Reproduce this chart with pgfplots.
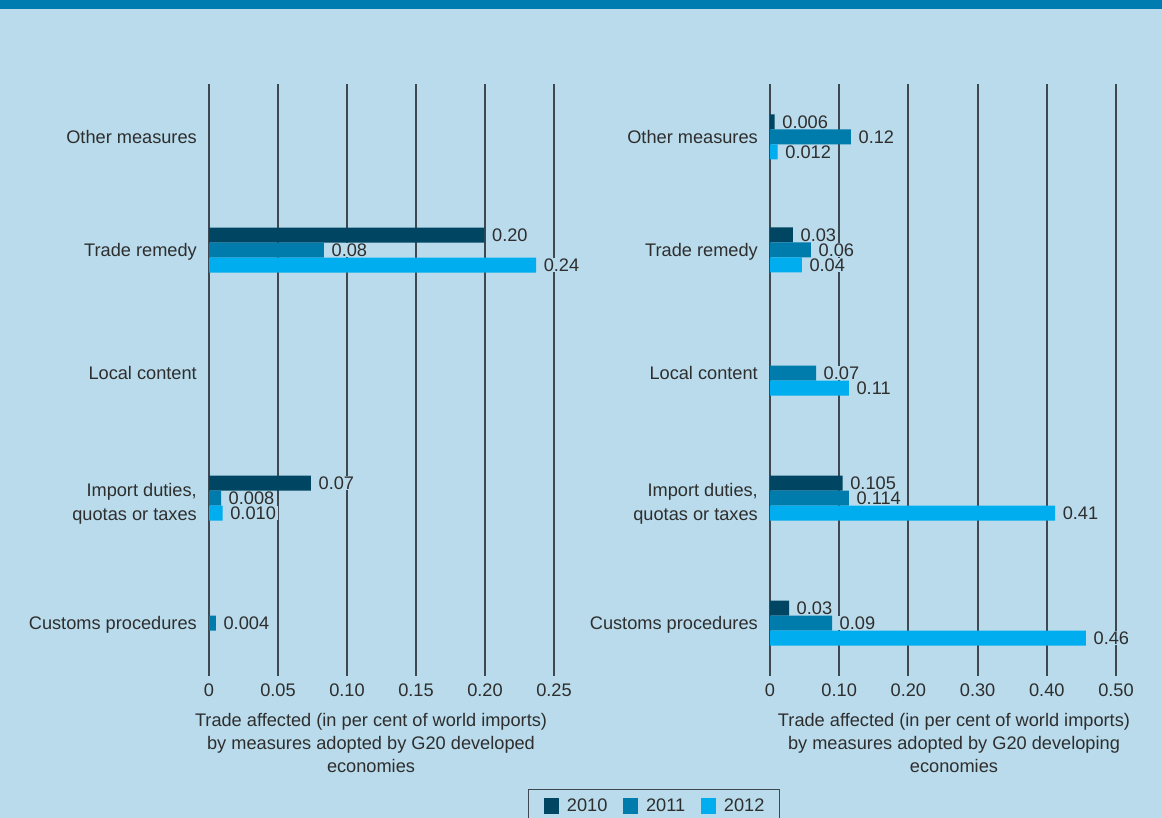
\documentclass[border=0pt]{standalone}
\usepackage{fontspec}
\setmainfont{Liberation Sans}
\usepackage{pgfplots}
\usepackage{pgfplotstable}
\pgfplotsset{compat=1.18}
\definecolor{bg}{HTML}{B9DBEB}
\definecolor{band}{HTML}{007CB0}
\definecolor{cA}{HTML}{004662}
\definecolor{cB}{HTML}{007CAC}
\definecolor{cC}{HTML}{00AEEF}
\definecolor{textc}{HTML}{2E2E2E}
\definecolor{gridc}{HTML}{3F4850}
\newcommand{\myfont}{\fontsize{18.2pt}{23pt}\selectfont}

% developed economies
\pgfplotstableread{
x y lab
0.1996 425.7 0.20
0.0739 177.7 0.07
}\devA
\pgfplotstableread{
x y lab
0.0833 425.7 0.08
0.0087 177.7 0.008
0.0050 52.7 0.004
}\devB
\pgfplotstableread{
x y lab
0.2370 425.7 0.24
0.0099 177.7 0.010
}\devC
% developing economies
\pgfplotstableread{
x y lab
0.0068 538.7 0.006
0.0332 425.7 0.03
0.1050 177.7 0.105
0.0275 52.7 0.03
}\dgA
\pgfplotstableread{
x y lab
0.1170 538.7 0.12
0.0592 425.7 0.06
0.0665 302.7 0.07
0.1140 177.7 0.114
0.0896 52.7 0.09
}\dgB
\pgfplotstableread{
x y lab
0.0111 538.7 0.012
0.0460 425.7 0.04
0.1140 302.7 0.11
0.4120 177.7 0.41
0.4566 52.7 0.46
}\dgC

\pgfplotsset{
  panel/.style={
    scale only axis, height=591.7pt, ymin=0, ymax=591.7, clip=false,
    axis line style={draw=none}, major tick length=0pt,
    xmajorgrids, grid style={draw=gridc, line width=2pt},
    ytick={52.7,174.2,302.7,425.7,538.7},
    yticklabels={Customs procedures,{Import duties,\\[1pt]quotas or taxes},Local content,Trade remedy,Other measures},
    yticklabel style={font=\myfont, text=textc, align=right, anchor=east, inner sep=0pt, text depth=0pt, xshift=-12pt},
    xticklabel style={font=\myfont, text=textc, anchor=north, inner sep=0pt, yshift=-7.6pt},
    xlabel style={font=\myfont, text=textc, align=center, anchor=north, inner sep=0pt},
  },
  bars/.style 2 args={xbar, bar width=15, bar shift=#2, draw=none, fill=#1},
  lab/.style={draw=none, mark=none, forget plot, nodes near coords, point meta=explicit symbolic,
    every node near coord/.append style={font=\myfont, text=textc, fill=bg, anchor=west,
      inner xsep=2pt, inner ysep=0.9pt, xshift=5.5pt, yshift=#1}},
}

\begin{document}
\begin{tikzpicture}
\fill[bg] (0,0) rectangle (1162pt,-818pt);
\useasboundingbox (0,0) rectangle (1162pt,-818pt);
\fill[band] (0,0) rectangle (1162pt,-9.5pt);

\begin{axis}[panel, at={(209pt,-675.7pt)}, anchor=south west, width=345pt,
  xmin=0, xmax=0.25, xtick={0,0.05,0.10,0.15,0.20,0.25},
  xticklabels={0,0.05,0.10,0.15,0.20,0.25},
  xlabel={Trade affected (in per cent of world imports)\\by measures adopted by G20 developed\\economies},
  xlabel style={at={(axis description cs:0.4696,0)}, yshift=-37.3pt},
  legend columns=3,
  legend image code/.code={\fill[#1] (0pt,-7.75pt) rectangle (15.5pt,7.75pt);},
  legend style={at={(axis description cs:0.9246,-0.1912)}, anchor=north west,
    draw=gridc, line width=1.5pt, fill=bg, font=\myfont, text=textc,
    inner xsep=15pt, inner ysep=8.7pt, nodes={inner sep=0pt},
    column sep=7.7pt, /tikz/every even column/.append style={column sep=15.5pt}},
]
\addplot[bars={cA}{15}] table[x=x,y=y]{\devA};
\addplot[bars={cB}{0}] table[x=x,y=y]{\devB};
\addplot[bars={cC}{-15}] table[x=x,y=y]{\devC};
\addplot[lab=15pt] table[x=x,y=y,meta=lab]{\devA};
\addplot[lab=0pt] table[x=x,y=y,meta=lab]{\devB};
\addplot[lab=-15pt] table[x=x,y=y,meta=lab]{\devC};
\legend{2010,2011,2012}
\end{axis}

\begin{axis}[panel, at={(770pt,-675.7pt)}, anchor=south west, width=346pt,
  xmin=0, xmax=0.5, xtick={0,0.1,0.2,0.3,0.4,0.5},
  xticklabels={0,0.10,0.20,0.30,0.40,0.50},
  xlabel={Trade affected (in per cent of world imports)\\by measures adopted by G20 developing\\economies},
  xlabel style={at={(axis description cs:0.5318,0)}, yshift=-37.3pt},
]
\addplot[bars={cA}{15}] table[x=x,y=y]{\dgA};
\addplot[bars={cB}{0}] table[x=x,y=y]{\dgB};
\addplot[bars={cC}{-15}] table[x=x,y=y]{\dgC};
\addplot[lab=15pt] table[x=x,y=y,meta=lab]{\dgA};
\addplot[lab=0pt] table[x=x,y=y,meta=lab]{\dgB};
\addplot[lab=-15pt] table[x=x,y=y,meta=lab]{\dgC};
\end{axis}
\end{tikzpicture}
\end{document}
